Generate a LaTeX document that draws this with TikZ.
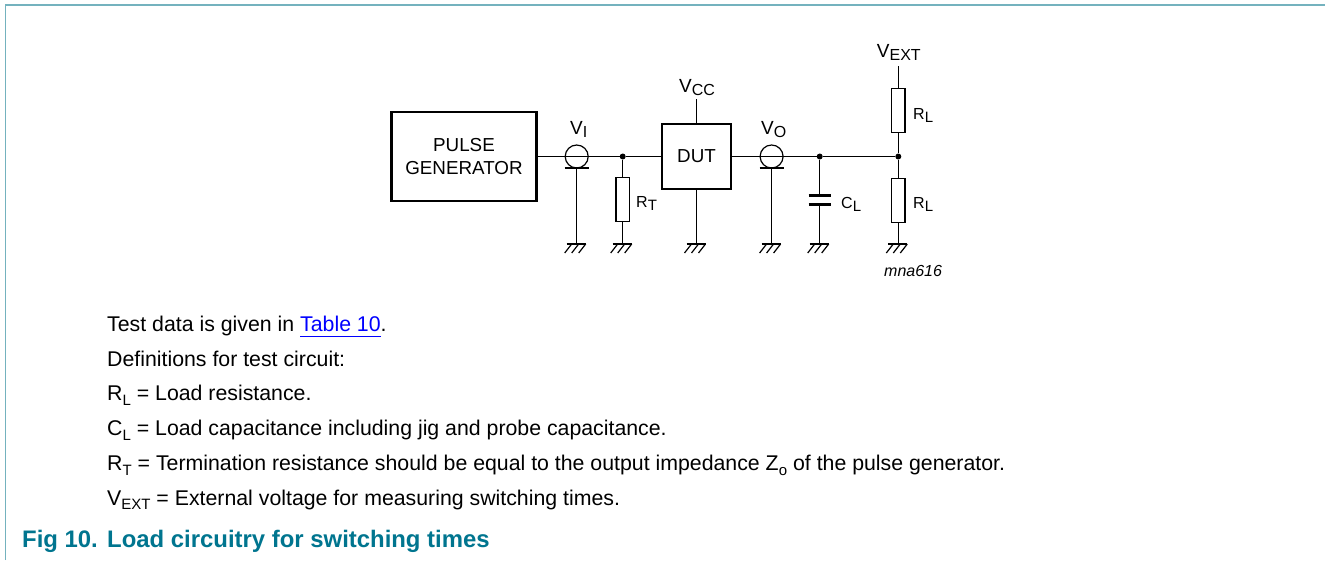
\documentclass[tikz,border=0pt]{standalone}
\usepackage{fontspec}
\setmainfont{Liberation Sans}
\definecolor{framecol}{HTML}{74B2BE}
\definecolor{titlecol}{HTML}{00758F}
\definecolor{linkcol}{HTML}{0000FF}
\newcommand{\labsub}[1]{\raisebox{-.18em}{\fontsize{16}{16}\selectfont #1}}
\newcommand{\smsub}[1]{\raisebox{-.2em}{\fontsize{15}{15}\selectfont #1}}
\newcommand{\txtsub}[1]{\raisebox{-.22em}{\fontsize{15}{15}\selectfont #1}}
\newcommand{\linktxt}[1]{\textcolor{linkcol}{\setbox0\hbox{#1}\rlap{\rule[-6pt]{\wd0}{1pt}}\box0}}
\tikzset{
  wire/.style={line width=1.2pt},
  plate/.style={line width=3pt},
  blockbox/.style={draw,line width=2.5pt,inner sep=0pt,outer sep=0pt,align=center,font=\fontsize{18.8}{23}\selectfont},
  resbox/.style={draw,line width=1.2pt,inner sep=0pt,outer sep=0pt,minimum width=13.5pt,minimum height=44pt},
  coaxring/.style={draw,circle,line width=1.2pt,inner sep=0pt,outer sep=0pt,minimum size=23pt},
  joint/.style={fill,circle,inner sep=0pt,minimum size=6pt},
  biglab/.style={anchor=base west,inner sep=0pt,font=\fontsize{19}{19}\selectfont},
  smlab/.style={anchor=base west,inner sep=0pt,font=\fontsize{16}{16}\selectfont},
  bodytxt/.style={anchor=base west,inner sep=0pt,font=\fontsize{21.3}{21.3}\selectfont},
  headtxt/.style={anchor=base west,inner sep=0pt,text=titlecol,font=\fontsize{23.9}{23.9}\selectfont\bfseries},
  gnd/.pic={
    \draw [wire] (-10,0) -- (9,0);
    \draw [wire] (-5,0) -- (-12,9);
    \draw [wire] (2,0) -- (-5,9);
    \draw [wire] (9,0) -- (2,9);
  }
}
\begin{document}
\begin{tikzpicture}[x=1pt,y=-1pt]
  \useasboundingbox (0,0) rectangle (1325,560);

  \draw [framecol,line width=1.6pt] (5.5,560) -- (5.5,5) -- (1325,5);

  % blocks
  \node [blockbox,minimum width=145pt,minimum height=89pt] (pulse) at (464,156.5) {PULSE\\GENERATOR};
  \node [blockbox,minimum width=69pt,minimum height=65pt] (dut) at (696.5,156.5) {DUT};

  \node [coaxring] (coaxi) at (576.7,156.5) {};
  \node [coaxring] (coaxo) at (771.6,156.5) {};
  \node [joint] (jt) at (622.7,156.5) {};
  \node [joint] (jo) at (819.7,156.5) {};
  \node [joint] (jl) at (898.3,156.5) {};

  \node [resbox] (rt) at (622.7,199.5) {};
  \node [resbox] (rlt) at (898.3,110.3) {};
  \node [resbox] (rlb) at (898.3,200.7) {};

  \coordinate (cp) at (819.7,195.7);
  \coordinate (cn) at (819.7,204.7);
  \coordinate (vcc) at (696.5,99);
  \coordinate (vext) at (898.3,66);

  \foreach \gname/\gx in {gi/576.7,gt/622.7,gd/696.5,go/771.6,gc/819.7,gl/898.3}{
    \coordinate (\gname) at (\gx,244);
    \pic at (\gname) {gnd};
  }

  % wires
  \draw [wire] (pulse) -- (coaxi.center) -- (jt) -- (dut);
  \draw [wire] (dut) -- (coaxo.center) -- (jo) -- (jl);
  \draw [wire] (jt) -- (rt) -- (gt);
  \draw [wire] (vcc) -- (dut);
  \draw [wire] (dut) -- (gd);
  \draw [wire] (coaxi.south) -- (gi);
  \draw [wire] (coaxo.south) -- (go);
  \draw [wire] ([xshift=-12pt]coaxi.south) -- ([xshift=12pt]coaxi.south);
  \draw [wire] ([xshift=-12pt]coaxo.south) -- ([xshift=12pt]coaxo.south);
  \draw [wire] (jo) -- (cp);
  \draw [wire] (cn) -- (gc);
  \draw [plate] ([xshift=-11pt]cp) -- ([xshift=11pt]cp);
  \draw [plate] ([xshift=-11pt]cn) -- ([xshift=11pt]cn);
  \draw [wire] (vext) -- (rlt) -- (jl) -- (rlb) -- (gl);

  % labels
  \node [biglab] (lvext) at (876.7,57.3) {V\labsub{EXT}};
  \node [biglab] (lvcc) at (679,92) {V\labsub{CC}};
  \node [biglab] (lvi) at (570,134) {V\labsub{I}};
  \node [biglab] (lvo) at (761,134) {V\labsub{O}};
  \node [smlab] (lrt) at (636,207) {R\smsub{T}};
  \node [smlab] (lcl) at (841,208) {C\smsub{L}};
  \node [smlab] (lrlt) at (913,119) {R\smsub{L}};
  \node [smlab] (lrlb) at (913,208) {R\smsub{L}};
  \node [smlab,font=\fontsize{16}{16}\selectfont\itshape] (code) at (884,276) {mna616};

  % text under the circuit
  \node [bodytxt] (tdata) at (107,331) {Test data is given in \linktxt{Table 10}.};
  \node [bodytxt] (tdefs) at (107,366) {Definitions for test circuit:};
  \node [bodytxt] (trl) at (107,400.7) {R\txtsub{L} = Load resistance.};
  \node [bodytxt] (tcl) at (107,435.5) {C\txtsub{L} = Load capacitance including jig and probe capacitance.};
  \node [bodytxt] (trt) at (107,470.7) {R\txtsub{T} = Termination resistance should be equal to the output impedance Z\txtsub{o} of the pulse generator.};
  \node [bodytxt] (tvext) at (107,505) {V\txtsub{EXT} = External voltage for measuring switching times.};
  \node [headtxt] (figno) at (22,547) {Fig 10.};
  \node [headtxt] (figname) at (107,547) {Load circuitry for switching times};
\end{tikzpicture}
\end{document}
